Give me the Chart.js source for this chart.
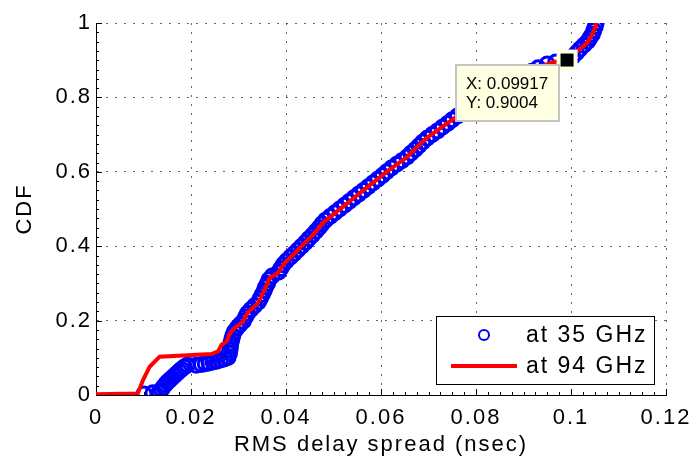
<!DOCTYPE html>
<html>
<head>
<meta charset="utf-8">
<script src="https://cdn.jsdelivr.net/npm/chart.js@4"></script>
<style>
html, body { margin: 0; padding: 0; background: #fff; }
#wrap { width: 694px; height: 462px; }
</style>
</head>
<body>
<div id="wrap"><canvas id="cdfChart" width="694" height="462"></canvas></div>
<script>

// RMS delay spread (nsec) and CDF
let delay35 = [
    0.0101, 0.0120, 0.0133, 0.0138, 0.0142, 0.0146, 0.0150, 0.0155, 0.0160, 0.0165, 0.0170, 0.0175, 0.0180, 0.0186, 0.0192,
    0.0211, 0.0222, 0.0230, 0.0238, 0.0246, 0.0254, 0.0262, 0.0270, 0.0278,
    0.0281, 0.0282, 0.0283, 0.0284, 0.0286, 0.0288, 0.0291, 0.0297, 0.0303, 0.0310,
    0.0315, 0.0319, 0.0326, 0.0334, 0.0342, 0.0346, 0.0350, 0.0354, 0.0357, 0.0361,
    0.0364, 0.0371, 0.0384, 0.0389, 0.0394, 0.0401, 0.0409, 0.0417, 0.0425, 0.0433,
    0.0441, 0.0448, 0.0456, 0.0463, 0.0470, 0.0476, 0.0483, 0.0493, 0.0503, 0.0513,
    0.0523, 0.0533, 0.0543, 0.0553, 0.0563, 0.0573, 0.0583, 0.0593, 0.0603, 0.0612,
    0.0622, 0.0633, 0.0644, 0.0655, 0.0663, 0.0672, 0.0680, 0.0688, 0.0697, 0.0708,
    0.0719, 0.0729, 0.0740, 0.0750, 0.0761, 0.0772, 0.0783, 0.0794, 0.0807, 0.0822,
    0.0838, 0.0853, 0.0866, 0.0879, 0.0892, 0.0905, 0.0918, 0.0931, 0.0950, 0.0968, 0.0990,
    0.1004, 0.1012, 0.1019, 0.1027, 0.1035, 0.1040, 0.1045, 0.1048, 0.1051, 0.1053
]
let cdf35 = [
    0.003, 0.006, 0.009, 0.015, 0.022, 0.028, 0.034, 0.040, 0.046, 0.052, 0.058, 0.064, 0.069, 0.075, 0.080,
    0.080, 0.082, 0.084, 0.086, 0.089, 0.091, 0.094, 0.097, 0.101,
    0.112, 0.121, 0.130, 0.140, 0.150, 0.160, 0.170, 0.180, 0.189, 0.198,
    0.21, 0.22, 0.23, 0.24, 0.25, 0.26, 0.27, 0.28, 0.29, 0.30,
    0.31, 0.32, 0.33, 0.34, 0.35, 0.36, 0.37, 0.38, 0.39, 0.40,
    0.41, 0.42, 0.43, 0.44, 0.45, 0.46, 0.47, 0.48, 0.49, 0.50,
    0.51, 0.52, 0.53, 0.54, 0.55, 0.56, 0.57, 0.58, 0.59, 0.60,
    0.61, 0.62, 0.63, 0.64, 0.65, 0.66, 0.67, 0.68, 0.69, 0.70,
    0.71, 0.72, 0.73, 0.74, 0.75, 0.76, 0.77, 0.78, 0.79, 0.80,
    0.81, 0.82, 0.83, 0.84, 0.85, 0.86, 0.87, 0.88, 0.89, 0.895, 0.90,
    0.91, 0.92, 0.93, 0.94, 0.95, 0.96, 0.97, 0.98, 0.99, 1.00
]

let delay94 = [
    0, 0.0088, 0.0099, 0.0113, 0.0134, 0.0243, 0.0257, 0.0264, 0.0275, 0.0282,
    0.0292, 0.0309, 0.0319, 0.0341, 0.0355, 0.0366, 0.0383, 0.0397, 0.0415, 0.0436,
    0.0457, 0.0478, 0.0513, 0.0548, 0.0583, 0.0618, 0.0653, 0.0695, 0.0751, 0.0800,
    0.0849, 0.0900, 0.0940, 0.0965, 0.0992, 0.1017, 0.1035, 0.1045, 0.1051, 0.1052
]
let cdf94 = [
    0.002, 0.004, 0.040, 0.076, 0.103, 0.110, 0.117, 0.135, 0.144, 0.166,
    0.181, 0.196, 0.221, 0.247, 0.283, 0.315, 0.328, 0.355, 0.377, 0.404,
    0.431, 0.463, 0.499, 0.535, 0.571, 0.606, 0.638, 0.690, 0.741, 0.785,
    0.817, 0.856, 0.885, 0.895, 0.9004, 0.928, 0.948, 0.970, 0.990, 1.000
]

let seriesLabels = ["at 35 GHz", "at 94 GHz"]
let xTicks = [0, 0.02, 0.04, 0.06, 0.08, 0.1, 0.12]
let yTicks = [0, 0.2, 0.4, 0.6, 0.8, 1]
let tipX = 0.09917
let tipY = 0.9004

const FONT = '"Liberation Sans", Arial, Helvetica, sans-serif'

function toPoints(xs, ys){
    return xs.map((x, i) => ({x: x, y: ys[i]}))
}

// matlab style bits: inward ticks, boxed legend, data tip
const matlabLook = {
    id: "matlabLook",
    beforeLayout(chart){
        chart.ctx.letterSpacing = "2px"
    },
    beforeDraw(chart){
        chart.ctx.letterSpacing = "2px"
    },
    beforeDatasetsDraw(chart){
        const ctx = chart.ctx
        const xs = chart.scales.x, ys = chart.scales.y
        const a = chart.chartArea
        ctx.save()
        ctx.strokeStyle = "#000"
        ctx.lineWidth = 1
        ctx.beginPath()
        for (let i = 0; i <= 48; i++){
            const px = Math.round(xs.getPixelForValue(i * 0.0025)) + 0.5
            const len = i % 8 === 0 ? 6 : 3
            ctx.moveTo(px, a.bottom)
            ctx.lineTo(px, a.bottom - len)
        }
        for (let i = 0; i <= 40; i++){
            const py = Math.round(ys.getPixelForValue(i * 0.025)) + 0.5
            const len = i % 8 === 0 ? 6 : 3
            ctx.moveTo(a.left, py)
            ctx.lineTo(a.left + len, py)
        }
        ctx.stroke()
        ctx.restore()
    },
    afterDraw(chart){
        const ctx = chart.ctx
        const a = chart.chartArea
        const xs = chart.scales.x, ys = chart.scales.y
        const ds = chart.data.datasets

        // legend box
        const w = 218, h = 68
        const lx = a.right - 12 - w, ly = a.bottom - 11 - h
        ctx.save()
        ctx.fillStyle = "#fff"
        ctx.fillRect(lx, ly, w, h)
        ctx.strokeStyle = "#000"
        ctx.lineWidth = 1
        ctx.strokeRect(Math.round(lx) + 0.5, Math.round(ly) + 0.5, w, h)
        ctx.beginPath()
        ctx.strokeStyle = ds[0].borderColor
        ctx.lineWidth = 2
        ctx.arc(lx + 48, ly + 19, 5, 0, Math.PI * 2)
        ctx.stroke()
        ctx.beginPath()
        ctx.strokeStyle = ds[1].borderColor
        ctx.lineWidth = 4
        ctx.moveTo(lx + 15, ly + 50)
        ctx.lineTo(lx + 81, ly + 50)
        ctx.stroke()
        ctx.fillStyle = "#000"
        ctx.font = "23px " + FONT
        ctx.letterSpacing = "2px"
        ctx.textBaseline = "middle"
        ctx.textAlign = "left"
        ctx.fillText(ds[0].label, lx + 90, ly + 20)
        ctx.fillText(ds[1].label, lx + 90, ly + 51)
        ctx.restore()

        // data tip
        const px = xs.getPixelForValue(tipX), py = ys.getPixelForValue(tipY)
        ctx.save()
        ctx.fillStyle = "#ffffe1"
        ctx.fillRect(px - 10.5, py - 10.5, 21, 21)
        ctx.fillStyle = "#000"
        ctx.fillRect(px - 6.5, py - 6.5, 13, 13)
        const bx = Math.round(px - 111), by = Math.round(py + 5), bw = 103, bh = 56
        ctx.fillStyle = "#ffffe1"
        ctx.fillRect(bx, by, bw, bh)
        ctx.strokeStyle = "#c4c4c4"
        ctx.lineWidth = 2
        ctx.strokeRect(bx, by, bw, bh)
        ctx.fillStyle = "#000"
        ctx.font = "17px " + FONT
        ctx.letterSpacing = "0px"
        ctx.textBaseline = "middle"
        ctx.textAlign = "left"
        ctx.fillText("X: " + tipX, bx + 10, by + 19)
        ctx.fillText("Y: " + tipY, bx + 10, by + 38)
        ctx.restore()
    }
}

new Chart(document.getElementById("cdfChart"), {
    type: "scatter",
    data: {
        datasets: [{
            label: seriesLabels[0],
            data: toPoints(delay35, cdf35),
            borderColor: "#0000ff",
            backgroundColor: "rgba(0,0,0,0)",
            pointStyle: "circle",
            pointRadius: 7,
            pointBorderWidth: 3,
            showLine: false,
            order: 1
        },
        {
            label: seriesLabels[1],
            data: toPoints(delay94, cdf94),
            borderColor: "#ff0000",
            backgroundColor: "#ff0000",
            borderWidth: 4,
            pointRadius: 0,
            showLine: true,
            tension: 0,
            order: 0
        }]
    },
    options: {
        responsive: false,
        maintainAspectRatio: false,
        animation: false,
        devicePixelRatio: 1,
        layout: {
            padding: {top: 23, right: 28, left: 0, bottom: 0}
        },
        elements: {
            point: {radius: 7, borderWidth: 3}
        },
        plugins: {
            legend: {display: false},
            tooltip: {enabled: false},
            title: {display: false}
        },
        scales: {
            x: {
                type: "linear",
                min: 0,
                max: 0.12,
                afterBuildTicks: (scale) => { scale.ticks = xTicks.map(v => ({value: v})) },
                afterFit: (scale) => {
                    scale.height = 67
                    scale.paddingLeft = 0
                    scale.paddingRight = 0
                },
                ticks: {
                    color: "#000",
                    padding: 10,
                    maxRotation: 0,
                    autoSkip: false,
                    font: {family: FONT, size: 22},
                    callback: (v) => String(v)
                },
                grid: {
                    color: "rgba(0,0,0,0.6)",
                    lineWidth: 1,
                    drawTicks: false
                },
                border: {display: true, color: "#000", width: 1, dash: [2, 7]},
                title: {
                    display: true,
                    text: "RMS delay spread (nsec)",
                    color: "#000",
                    font: {family: FONT, size: 22},
                    padding: {top: 0, bottom: 4}
                }
            },
            y: {
                type: "linear",
                min: 0,
                max: 1,
                afterBuildTicks: (scale) => { scale.ticks = yTicks.map(v => ({value: v})) },
                afterFit: (scale) => {
                    scale.width = 96
                    scale.paddingTop = 0
                    scale.paddingBottom = 0
                },
                ticks: {
                    color: "#000",
                    padding: 4,
                    font: {family: FONT, size: 22},
                    callback: (v) => String(v)
                },
                grid: {
                    color: "rgba(0,0,0,0.6)",
                    lineWidth: 1,
                    drawTicks: false
                },
                border: {display: true, color: "#000", width: 1, dash: [2, 7]},
                title: {
                    display: true,
                    text: "CDF",
                    color: "#000",
                    font: {family: FONT, size: 22},
                    padding: {top: 12, bottom: 0}
                }
            }
        }
    },
    plugins: [matlabLook]
})
</script>
</body>
</html>
